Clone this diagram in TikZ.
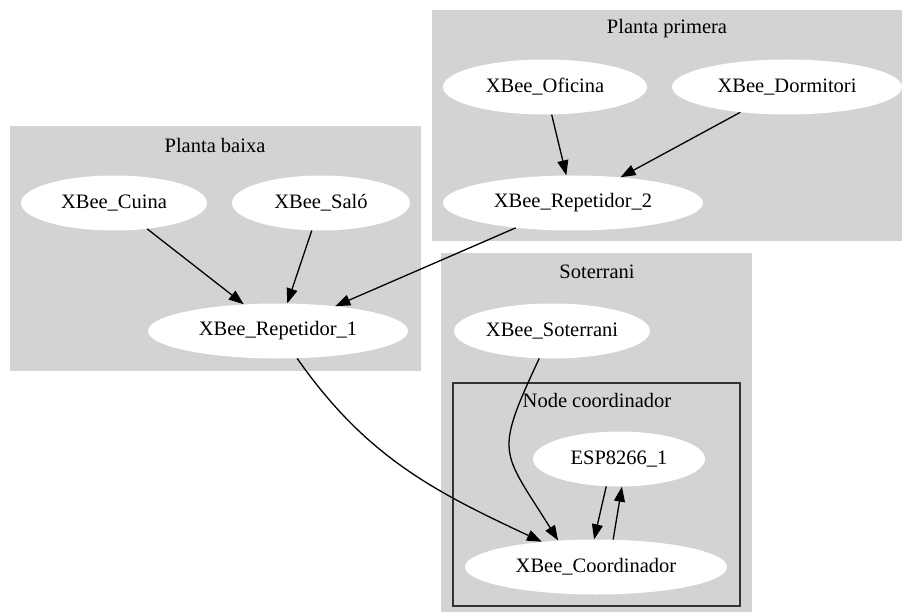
\documentclass[tikz,border=0pt]{standalone}
\usepackage{fontspec}
\setmainfont{Liberation Serif}
\usetikzlibrary{shapes.geometric,arrows.meta}
\definecolor{clustergray}{HTML}{D3D3D3}
\begin{document}
\begin{tikzpicture}[x=1pt,y=-1pt,font=\fontsize{20.5}{24}\selectfont,
 nd/.style={ellipse,fill=white,inner sep=0pt,minimum height=55pt},
 arr/.style={-{Triangle[length=15pt,width=11pt]},line width=1.3pt}]
\useasboundingbox (0,0) rectangle (902,612);
\fill[clustergray] (432,10) rectangle (902,241);
\fill[clustergray] (10,126) rectangle (421,371);
\fill[clustergray] (441,253) rectangle (752,612);
\filldraw[fill=clustergray,draw=black!80,line width=1.5pt] (453,383) rectangle (740,606);
\node (pprimera) at (667,29) {Planta primera};
\node (pbaixa) at (215,145) {Planta baixa};
\node (soterr) at (597,272) {Soterrani};
\node (ncoord) at (597,400) {Node coordinador};
\node [nd,minimum width=204pt] (oficina) at (545,87) {XBee\_Oficina};
\node [nd,minimum width=230pt] (dormitori) at (787,87) {XBee\_Dormitori};
\node [nd,minimum width=260pt] (rep2) at (573,203) {XBee\_Repetidor\_2};
\node [nd,minimum width=186pt] (cuina) at (114,203) {XBee\_Cuina};
\node [nd,minimum width=178pt] (salo) at (321,203) {XBee\_Saló};
\node [nd,minimum width=260pt] (rep1) at (278,331) {XBee\_Repetidor\_1};
\node [nd,minimum width=196pt] (soterrani) at (552,331) {XBee\_Soterrani};
\node [nd,minimum width=172pt] (esp) at (619,459) {ESP8266\_1};
\node [nd,minimum width=262pt] (coord) at (596,567) {XBee\_Coordinador};
\draw [arr] (oficina) -- (rep2);
\draw [arr] (dormitori) -- (rep2);
\draw [arr] (cuina) -- (rep1);
\draw [arr] (salo) -- (rep1);
\draw [arr] (rep2) -- (rep1);
\draw [arr] (rep1) to[out=-55,in=155] (coord);
\draw [arr] (soterrani.-115) to[out=-115,in=122,looseness=1.5] (coord.145);
\draw [arr] (esp.-115) -- (coord.94);
\draw [arr] (coord.58) -- (esp.-84);
\end{tikzpicture}
\end{document}
